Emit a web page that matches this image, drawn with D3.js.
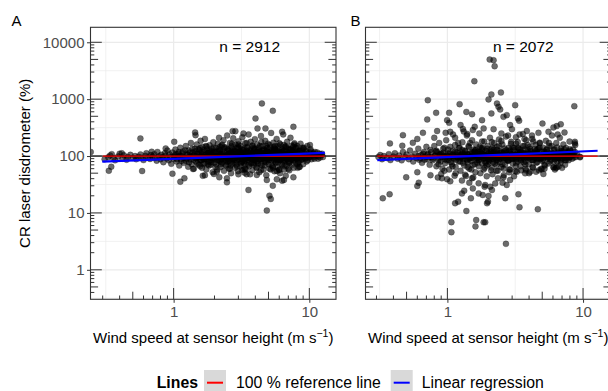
<!DOCTYPE html>
<html><head><meta charset="utf-8">
<script src="https://cdn.jsdelivr.net/npm/d3@7"></script>
<style>html,body{margin:0;padding:0;background:#fff;overflow:hidden}</style>
</head><body>
<svg id="c" width="608" height="391"></svg>
<script>
// ---------------- DATA ----------------
const panelLabels = ["A", "B"];
const nLabels = ["n = 2912", "n = 2072"];
const yTickValues = [1, 10, 100, 1000, 10000];
const xTickValues = [1, 10];
const xTitle = "Wind speed at sensor height (m s";
const yTitle = "CR laser disdrometer (%)";
const legendTitle = "Lines";
const legendItems = ["100 % reference line", "Linear regression"];

// Panel A: wind speed (m/s), ratio (%)
const coreA = [
[0.31,88],[0.33,95],[0.34,102],[0.36,92],[0.37,84],[0.39,98],[0.40,110],[0.42,90],[0.43,103],[0.45,86],[0.46,96],[0.48,105],[0.50,92],[0.52,100],[0.53,88],[0.55,97],[0.57,107],[0.58,93],[0.60,85],[0.62,101],[0.63,112],[0.65,95],[0.67,89],[0.68,104],[0.70,98],
[0.72,108],[0.73,92],[0.75,83],[0.76,118],[0.78,99],[0.80,88],[0.81,105],[0.83,95],[0.84,78],[0.86,112],[0.87,101],[0.89,91],[0.90,125],[0.92,84],[0.93,108],[0.95,97],[0.96,73],[0.98,115],[1.00,90],[1.02,103],[1.03,130],[1.05,80],[1.07,96],[1.08,110],[1.10,68],[1.12,140],[1.13,88],[1.15,100],[1.17,120],[1.19,76],
[1.21,94],[1.23,150],[1.24,82],[1.26,108],[1.28,65],[1.29,125],[1.31,98],[1.33,88],[1.34,170],[1.36,72],[1.38,115],[1.39,102],[1.41,60],[1.43,135],[1.44,92],[1.46,80],[1.48,160],[1.49,110],[1.51,95],[1.53,70],[1.55,128],[1.56,85],[1.58,185],[1.60,102],[1.62,62],[1.63,145],[1.65,90],[1.67,118],[1.69,75],[1.70,200],[1.72,98],[1.74,58],[1.76,132],[1.78,86],[1.80,112],[1.82,68],[1.84,155],[1.86,94],[1.88,78],[1.90,122],[1.92,105],[1.94,52],[1.96,175],[1.98,88],
[2.02,100],[2.04,140],[2.06,72],[2.08,118],[2.10,58],[2.12,165],[2.14,90],[2.16,210],[2.18,82],[2.20,128],[2.22,64],[2.24,108],[2.26,150],[2.28,76],[2.30,96],[2.33,190],[2.35,55],[2.37,120],[2.39,86],[2.42,142],[2.44,68],[2.46,104],[2.48,230],[2.51,80],[2.53,130],[2.55,60],[2.58,112],[2.60,170],[2.62,92],[2.65,50],[2.67,148],[2.70,74],[2.72,102],[2.75,205],[2.77,84],[2.80,124],[2.83,62],[2.85,160],[2.88,96],[2.90,70],[2.93,138],[2.96,110],[2.98,54],[3.01,182],[3.04,88],[3.07,120],[3.10,66],[3.12,150],[3.15,98],[3.18,78],[3.21,215],[3.24,106],[3.27,58],[3.30,135],[3.33,90],[3.36,168],[3.39,72],[3.42,115],[3.45,48],[3.48,145],[3.51,84],[3.54,100],[3.57,240],[3.60,66],[3.63,126],[3.66,92],[3.70,178],[3.73,76],[3.76,108],[3.80,56],[3.83,155],[3.86,95],[3.90,70],[3.93,130],[3.97,198],
[4.01,86],[4.05,112],[4.08,62],[4.12,160],[4.16,98],[4.20,74],[4.24,140],[4.28,52],[4.32,120],[4.36,88],[4.40,225],[4.44,104],[4.48,68],[4.52,150],[4.56,94],[4.60,58],[4.65,132],[4.69,80],[4.73,185],[4.78,108],[4.82,46],[4.86,125],[4.91,90],[4.95,165],[5.00,72],[5.04,116],[5.09,60],[5.14,142],[5.19,98],[5.23,255],[5.28,84],[5.33,128],[5.38,66],[5.43,172],[5.48,102],[5.53,54],[5.58,136],[5.63,78],[5.68,110],[5.74,200],[5.79,92],[5.84,62],[5.90,148],[5.95,86],[6.01,118],[6.07,50],[6.12,160],[6.18,96],[6.24,72],[6.30,130],[6.36,104],[6.42,240],[6.48,82],[6.54,58],[6.60,144],[6.66,92],[6.73,120],[6.79,68],[6.86,178],[6.92,100],[6.99,80],[7.05,135],[7.12,56],[7.19,112],[7.26,210],[7.32,88],[7.40,152],[7.47,70],[7.54,106],[7.61,125],[7.69,62],[7.76,168],[7.84,94],[7.91,78],[7.99,138],
[2.1,95],[2.3,110],[2.5,88],[2.7,118],[2.9,84],[3.1,104],[3.3,76],[3.5,122],[3.7,96],[3.9,112],[4.1,80],[4.3,100],[4.5,124],[4.7,86],[4.9,106],[5.1,92],[5.3,114],[5.5,84],[5.7,126],[5.9,100],[6.1,88],[6.3,112],[6.5,96],[6.7,84],[6.9,110],[7.1,98],[7.3,122],[7.5,90],[7.8,104],[8.1,116],[2.2,105],[2.6,92],[3.0,98],[3.4,108],[3.8,86],[4.2,118],[4.6,102],[5.0,96],[5.4,104],[5.8,90],[6.2,100],[6.6,108],[7.0,92],[7.4,114],[7.9,100],
[8.06,92],[8.15,150],[8.24,76],[8.33,118],[8.42,64],[8.52,104],[8.61,165],[8.71,86],[8.81,128],[8.91,98],[9.01,72],[9.12,140],[9.22,110],[9.33,90],[9.44,122],[9.55,80],[9.66,150],[9.77,102],[9.89,94],[10.0,115],[10.1,156],[10.2,132],[10.4,88],[10.6,108],[10.8,96],[11.0,118],[11.3,100],[11.6,90],[11.9,110],[12.3,104],[12.6,96]
];
const centerA = [
[1.01,96],[1.04,108],[1.06,88],[1.09,118],[1.11,100],[1.14,82],[1.16,112],[1.18,94],[1.22,126],[1.25,90],[1.27,104],[1.30,78],[1.32,116],[1.35,98],[1.37,134],[1.40,86],[1.42,106],[1.45,122],[1.47,92],[1.50,74],[1.52,110],[1.54,100],[1.57,138],[1.59,84],[1.61,118],[1.64,96],[1.66,72],[1.68,128],[1.71,104],[1.73,88],[1.75,146],[1.77,94],[1.79,114],[1.81,80],[1.83,102],[1.85,124],[1.87,70],[1.89,98],[1.91,136],[1.93,86],[1.95,112],[1.97,94],[1.99,76],
[2.03,120],[2.07,96],[2.11,84],[2.15,132],[2.19,104],[2.23,72],[2.27,116],[2.31,90],[2.36,142],[2.40,100],[2.45,80],[2.49,124],[2.54,94],[2.59,110],[2.63,68],[2.68,136],[2.73,88],[2.78,106],[2.82,120],[2.87,78],[2.92,98],[2.97,146],[3.02,86],[3.08,112],[3.13,74],[3.19,130],[3.25,96],[3.31,118],[3.37,82],[3.43,104],[3.49,140],[3.55,70],[3.62,100],[3.68,122],[3.75,88],[3.82,110],[3.88,76],[3.95,134],[4.02,96],[4.09,116],[4.17,82],[4.24,104],[4.32,150],[4.40,72],[4.48,112],[4.56,90],[4.65,128],[4.73,98],[4.82,78],[4.91,138],[5.00,104],[5.09,86],[5.19,120],[5.28,68],[5.38,108],[5.48,144],[5.58,92],[5.68,76],[5.79,116],[5.90,100],[6.01,132],[6.12,84],[6.23,106],[6.35,70],[6.47,124],[6.59,96],[6.71,148],[6.84,88],[6.96,112],[7.09,76],[7.23,130],[7.36,98],[7.50,120],[7.64,84],[7.78,106],[7.93,140],[8.08,90],[8.23,112],[8.38,80],[8.54,124],[8.70,100],[8.86,88],[9.03,134],[9.20,106],[9.37,92],[9.55,118],[9.73,84],[9.91,104],[10.1,96],[10.3,122],[10.5,100],[10.7,112],[10.9,90],[11.1,106],[11.4,116],[11.7,98],[12.0,94],[12.4,110],
[2.52,102],[2.66,114],[2.81,92],[2.95,108],[3.10,96],[3.28,104],[3.46,90],[3.65,114],[3.85,100],[4.05,92],[4.28,108],[4.52,98],[4.77,116],[5.04,94],[5.33,100],[5.63,110],[5.95,92],[6.29,104],[6.65,98],[7.03,112],[7.43,94],[7.86,102],[2.58,84],[2.74,128],[3.04,120],[3.22,86],[3.58,92],[3.92,120],[4.14,102],[4.44,88],[4.70,106],[4.96,114],[5.22,96],[5.52,126],[5.84,86],[6.16,118],[6.53,88],[6.90,104],[7.28,92],[7.70,116],[8.15,98]
];
const fillA = [
[1.52,132],[1.57,66],[1.62,108],[1.68,88],[1.73,150],[1.79,72],[1.85,116],[1.91,92],[1.97,140],[2.03,64],[2.09,100],[2.15,122],[2.21,80],[2.28,158],[2.34,96],[2.41,70],[2.48,134],[2.55,108],[2.62,76],[2.69,164],[2.77,90],[2.85,118],[2.93,66],[3.01,142],[3.09,104],[3.18,82],[3.27,126],[3.36,60],[3.45,170],[3.55,94],[3.65,112],[3.75,74],[3.86,138],[3.97,100],[4.08,64],[4.19,128],[4.31,90],[4.43,176],[4.56,106],[4.69,68],[4.82,118],[4.96,84],[5.10,156],[5.24,96],[5.39,62],[5.54,134],[5.70,104],[5.86,78],[6.02,168],[6.19,92],[6.37,120],[6.55,66],[6.73,140],[6.92,100],[7.12,76],[7.32,130],[7.53,88],[7.74,160],[7.96,104],[8.18,72],[8.42,124],[8.65,92],[8.90,140],
[1.6,84],[1.8,100],[2.0,112],[2.25,88],[2.45,96],[2.65,104],[2.9,100],[3.15,114],[3.4,94],[3.7,104],[3.95,88],[4.25,112],[4.55,96],[4.85,100],[5.15,110],[5.45,90],[5.75,100],[6.05,110],[6.4,94],[6.8,100],[7.2,106],[7.6,98],[8.0,108],[8.5,100],[9.0,96],
[2.2,145],[2.6,60],[3.0,160],[3.4,58],[3.8,150],[4.4,56],[4.8,150],[5.2,58],[5.6,150],[6.0,58],[6.5,156],[7.0,60],[7.6,146],[8.2,62]
];
const scatterA = [
[4.47,841],[5.38,624],[2.14,477],[4.01,458],[7.63,327],[0.569,204],[4.15,306],[4.75,306],[1.44,260],[1.45,233],[2.72,274],[2.85,274],[3.56,25.3],[5.08,20.1],[5.2,17.6],[4.86,11],[1.12,35.4],[1.2,40.6],[2.17,42.3],[0.333,55.2],[0.347,64.9],[0.245,118],[0.586,54.5],[7.63,42.3],[6.3,36.9],[5.76,39],[4.86,37.9],[3.33,50.9],[3.18,56.8],[1.01,178],[1.64,45],[1.7,46],[1.98,48.4],[1.39,59],[0.98,49],[0.415,112],[0.35,108],[0.689,119],[0.874,136],[2.47,34.5],[2.47,40.6],[2.08,53],[6.5,38],[6.7,45],[5.38,30.1],[5.76,54.6],[6.0,56.8],[8.5,64.9],[4.1,46.5],[3.66,47.7],[3.0,47.7],[6.3,267],[3.27,250]
];

// Panel B
const coreB = [
[0.31,96],[0.32,104],[0.33,88],[0.34,100],[0.36,92],[0.37,108],[0.38,85],[0.40,98],[0.41,112],[0.43,90],[0.44,102],[0.46,84],[0.47,118],[0.49,95],[0.50,106],[0.52,88],[0.53,125],[0.55,98],[0.56,80],[0.58,110],[0.59,92],[0.61,135],[0.62,86],[0.64,104],[0.65,76],[0.67,118],[0.68,95],[0.70,145],
[0.71,88],[0.72,110],[0.74,70],[0.75,128],[0.77,96],[0.78,84],[0.80,150],[0.81,102],[0.83,66],[0.84,118],[0.86,92],[0.87,170],[0.89,80],[0.90,108],[0.92,60],[0.93,135],[0.95,98],[0.96,75],[0.98,190],[1.00,112],[1.02,86],[1.03,58],[1.05,145],[1.07,100],[1.08,72],[1.10,125],[1.12,90],[1.14,210],[1.15,64],[1.17,115],[1.19,95],
[1.21,80],[1.23,140],[1.25,55],[1.27,105],[1.29,175],[1.31,88],[1.33,68],[1.35,122],[1.37,98],[1.39,230],[1.41,76],[1.43,150],[1.45,60],[1.47,110],[1.50,92],[1.52,190],[1.54,70],[1.56,130],[1.58,100],[1.61,52],[1.63,160],[1.65,84],[1.68,118],[1.70,66],[1.72,250],[1.75,96],[1.77,138],[1.80,74],[1.82,108],[1.85,58],[1.87,180],[1.90,90],[1.92,124],[1.95,68],[1.98,150],[2.00,100],[2.03,80],[2.06,210],[2.09,112],[2.12,62],[2.15,140],[2.18,88],[2.21,170],[2.24,74],[2.27,104],[2.30,55],[2.33,128],[2.36,94],[2.40,196],[2.43,78],[2.46,115],
[1.25,95],[1.35,100],[1.45,90],[1.55,104],[1.65,96],[1.75,110],[1.85,92],[1.95,102],[2.05,94],[2.15,108],[2.25,96],[2.35,104],[2.45,90],[1.3,112],[1.5,118],[1.7,86],[1.9,80],[2.1,120],[2.3,84],[1.4,84],[1.6,126],[1.8,132],[2.0,72],[2.2,130],[2.4,102],
[2.50,64],[2.54,160],[2.58,92],[2.62,120],[2.66,70],[2.70,220],[2.74,100],[2.78,84],[2.82,140],[2.86,58],[2.90,112],[2.95,178],[2.99,90],[3.03,74],[3.08,128],[3.12,104],[3.17,54],[3.21,165],[3.26,95],[3.30,80],[3.35,136],[3.40,240],[3.45,66],[3.50,118],[3.55,98],[3.60,150],[3.65,78],[3.70,108],[3.76,60],[3.81,190],[3.87,92],[3.92,125],[3.98,72],[4.04,145],[4.10,102],[4.16,86],[4.22,200],[4.28,62],[4.34,116],[4.40,94],[4.47,158],[4.53,76],[4.60,130],[4.66,100],[4.73,56],[4.80,172],[4.87,88],[4.94,120],
[2.6,104],[2.8,96],[3.0,108],[3.2,88],[3.4,100],[3.6,112],[3.8,94],[4.0,106],[4.2,98],[4.4,110],[4.6,92],[4.8,104],[2.7,88],[2.9,126],[3.1,140],[3.3,110],[3.5,84],[3.7,130],[3.9,104],[4.1,122],[4.3,84],[4.5,112],[4.7,136],[4.9,96],
[5.01,82],[5.09,140],[5.16,104],[5.24,68],[5.32,185],[5.40,96],[5.48,118],[5.56,74],[5.64,150],[5.73,100],[5.81,86],[5.90,230],[5.98,110],[6.07,64],[6.16,132],[6.26,92],[6.35,170],[6.45,80],[6.54,115],[6.64,98],[6.74,210],[6.84,76],[6.95,124],[7.05,90],[7.16,160],[7.26,104],[7.37,70],[7.48,138],[7.60,96],[7.71,120],[7.83,84],[7.95,180],[8.07,100],[8.19,112],[8.31,90],[8.44,130],[8.57,104],[8.70,118],[8.83,96],[9.0,108],
[5.2,100],[5.5,94],[5.8,108],[6.1,98],[6.4,104],[6.7,92],[7.0,110],[7.3,96],[7.6,104],[7.9,94]
];
const centerB = [
[0.61,100],[0.63,92],[0.66,110],[0.68,86],[0.71,104],[0.73,96],[0.76,118],[0.78,90],[0.81,100],[0.83,124],[0.86,84],[0.88,106],[0.91,96],[0.93,114],[0.96,88],[0.99,102],[1.01,130],[1.04,94],[1.06,78],[1.09,108],[1.11,98],[1.14,120],[1.16,86],[1.19,104],[1.22,138],[1.25,92],[1.27,110],[1.30,76],[1.32,100],[1.35,124],[1.38,88],[1.41,106],[1.44,144],[1.47,96],[1.50,82],[1.53,114],[1.56,100],[1.59,72],[1.62,128],[1.65,92],[1.68,108],[1.71,84],[1.74,118],[1.78,98],[1.81,140],[1.84,90],[1.88,104],[1.91,76],[1.95,120],[1.98,96],[2.02,112],[2.06,86],[2.10,132],[2.14,100],[2.18,78],[2.22,116],[2.26,94],[2.31,146],[2.35,106],[2.40,88],[2.44,122],[2.49,98],[2.54,72],[2.59,112],[2.64,136],[2.69,92],[2.74,104],[2.80,82],[2.85,120],[2.91,100],[2.97,88],[3.03,142],[3.09,108],[3.15,94],[3.21,76],[3.28,118],[3.34,100],[3.41,130],[3.48,86],[3.55,110],[3.62,96],[3.69,150],[3.77,80],[3.84,106],[3.92,116],[4.00,92],[4.08,134],[4.16,100],[4.24,84],[4.33,112],[4.41,96],[4.50,124],[4.59,78],[4.69,104],[4.78,140],[4.88,92],[4.98,110],[5.08,86],[5.18,120],[5.28,100],[5.39,132],[5.50,90],[5.61,108],[5.72,80],[5.84,116],[5.96,98],[6.08,128],[6.20,88],[6.33,106],[6.45,142],[6.58,94],[6.72,112],[6.85,84],[6.99,120],[7.13,100],[7.28,130],[7.42,92],[7.57,108],[7.73,116],[7.88,96],[8.04,124],[8.21,102],[8.37,110],[8.54,94],
[0.9,110],[1.0,100],[1.1,92],[1.2,112],[1.3,98],[1.4,108],[1.5,96],[1.6,104],[1.7,94],[1.8,110],[1.9,100],[2.0,90],[2.1,106],[2.2,98],[2.3,114],[2.4,94],[2.5,104],[2.6,90],[2.7,112],[2.8,100],[2.9,108],[3.0,94],[3.2,104],[3.4,112],[3.6,94],[3.8,100],[4.0,110],[4.2,96],[4.4,104],[4.6,112],[4.8,94],[5.0,102],[5.3,110],[5.6,98],[5.9,106],[6.2,96],[6.6,110],[7.0,98],[7.5,104],[8.0,96]
];
const fillB = [
[0.82,120],[0.86,72],[0.90,100],[0.95,140],[0.99,84],[1.04,112],[1.09,66],[1.14,156],[1.19,96],[1.24,80],[1.29,128],[1.35,104],[1.41,64],[1.47,170],[1.53,92],[1.60,118],[1.66,76],[1.73,146],[1.80,100],[1.88,62],[1.96,134],[2.04,88],[2.12,176],[2.21,108],[2.30,70],[2.40,150],[2.50,96],[2.60,60],[2.71,126],[2.82,84],[2.94,164],[3.06,102],[3.19,66],[3.32,140],[3.46,92],[3.60,116],[3.75,72],[3.91,156],[4.07,98],[4.24,64],[4.41,132],[4.60,90],[4.79,168],[4.98,104],[5.19,70],[5.40,128],[5.63,96],[5.86,150],[6.10,80],[6.36,112],[6.62,66],[6.89,136],[7.18,100],[7.48,84],
[0.95,96],[1.1,104],[1.25,100],[1.45,96],[1.65,112],[1.85,104],[2.05,96],[2.25,92],[2.5,114],[2.75,98],[3.05,92],[3.3,104],[3.6,100],[3.95,96],[4.3,104],[4.7,100],[5.1,94],[5.5,104],[6.0,100],[6.5,96],[7.1,106],
[1.2,170],[1.5,58],[1.8,180],[2.1,56],[2.5,184],[2.9,58],[3.3,176],[3.8,56],[4.3,180],[4.9,60],[5.6,170],[6.3,62]
];
const scatterB = [
[2.05,4970],[2.19,4830],[2.23,3790],[1.58,2070],[2.48,1310],[2.11,1210],[2.01,990],[2.32,840],[2.38,733],[2.45,659],[2.11,561],[2.59,489],[2.74,524],[3.16,785],[0.717,960],[1.23,817],[0.826,575],[1.03,575],[0.995,428],[1.03,384],[0.71,440],[1.38,597],[1.52,545],[1.8,428],[1.59,327],[1.54,286],[3.31,458],[3.38,417],[8.62,753],[5.02,372],[6.85,362],[6.4,336],[6.05,319],[1.25,350],
[0.47,233],[0.556,171],[0.465,152],[0.377,167],[0.66,256],[0.84,275],[0.97,256],[1.05,267],[1.85,306],[2.19,297],[2.99,297],[2.5,250],[3.85,275],[4.69,256],[5.56,267],[1.3,300],[1.32,270],[1.4,245],[2.8,230],[3.2,215],[3.6,245],[4.2,230],[6.5,240],[7.3,260],[8.0,132],[8.7,178],[8.76,156],[9.5,95],[0.8,210],[1.1,240],[0.6,200],[2.9,350],[3.7,200],
[0.334,18.1],[0.375,21.3],[0.497,42.3],[0.6,29.8],[0.615,34.0],[1.07,6.87],[1.07,4.58],[1.14,14.8],[1.2,15.8],[1.28,22],[1.33,24.6],[1.38,10.8],[1.49,18.1],[1.54,27],[1.63,7.5],[1.85,6.87],[1.61,5.8],[1.9,6.87],[1.7,22],[1.82,20.7],[1.88,28.9],[0.91,40.6],[0.995,39.1],[0.90,48.4],[1.13,45],[1.28,37],[1.37,44.6],[1.52,40.6],[1.7,33.1],[1.9,31],
[2.7,2.86],[3.34,21.3],[3.4,12.6],[4.64,11.6],[2.67,18.1],[2.07,28.9],[2.13,25.3],[2.01,19.9],[1.99,15.8],[1.96,14.8],[2.36,40.6],[2.59,42.3],[2.55,34],[2.74,31],[3.25,53],[3.74,49.6],[4.07,53],[4.96,58.4],[5.1,48.4],[6.05,63],[6.4,63],[7.36,85],[9.5,97],[8.7,167],
[0.6,52],[0.75,46],[0.95,55],[1.15,50],[1.35,47],[1.55,42],[1.75,50],[1.95,44],[2.15,48],[2.35,55],[2.6,46],[2.85,52],[3.1,44],[3.5,56],[4.0,50],[4.5,53],[5.2,60],[6.2,58],[7.0,62],[1.05,36],[1.45,34],[2.25,33],[2.9,38],[0.85,42]
];

// Fitted lines (endpoints)
const regA = [[0.298, 79.5], [13.0, 114]];
const regB = [[0.304, 85], [12.8, 124]];
const refA = [[0.300, 100], [13.0, 100]];
const refB = [[0.304, 100], [12.8, 100]];

// ---------------- DRAW ----------------
const FONT = "'Liberation Sans', Arial, Helvetica, sans-serif";
const svg = d3.select("#c");
svg.append("rect").attr("width", 608).attr("height", 391).attr("fill", "#fff");
const yDomain = [0.303, 18350];

function drawPanel(o) {
  const x = d3.scaleLog().domain(o.xDomain).range([o.left, o.right]);
  const y = d3.scaleLog().domain(yDomain).range([o.bottom, o.top]);
  const g = svg.append("g");
  const clipId = "clip" + o.label;
  svg.append("clipPath").attr("id", clipId).append("rect")
    .attr("x", o.left).attr("y", o.top).attr("width", o.right - o.left).attr("height", o.bottom - o.top);

  const grid = g.append("g").attr("clip-path", `url(#${clipId})`);
  const xMinor = [-2, -1, 0, 1].map(k => Math.pow(10, k + 0.5)).filter(v => v > o.xDomain[0] && v < o.xDomain[1]);
  const yMinor = [-1, 0, 1, 2, 3, 4].map(k => Math.pow(10, k + 0.5)).filter(v => v > yDomain[0] && v < yDomain[1]);
  const xMajor = [0.1, 1, 10, 100].filter(v => v > o.xDomain[0] && v < o.xDomain[1]);
  grid.selectAll(".xm").data(xMinor).enter().append("line")
    .attr("x1", d => x(d)).attr("x2", d => x(d)).attr("y1", o.top).attr("y2", o.bottom)
    .attr("stroke", "#EBEBEB").attr("stroke-width", 0.7);
  grid.selectAll(".ym").data(yMinor).enter().append("line")
    .attr("y1", d => y(d)).attr("y2", d => y(d)).attr("x1", o.left).attr("x2", o.right)
    .attr("stroke", "#EBEBEB").attr("stroke-width", 0.7);
  grid.selectAll(".xM").data(xMajor).enter().append("line")
    .attr("x1", d => x(d)).attr("x2", d => x(d)).attr("y1", o.top).attr("y2", o.bottom)
    .attr("stroke", "#EBEBEB").attr("stroke-width", 1.2);
  grid.selectAll(".yM").data(yTickValues).enter().append("line")
    .attr("y1", d => y(d)).attr("y2", d => y(d)).attr("x1", o.left).attr("x2", o.right)
    .attr("stroke", "#EBEBEB").attr("stroke-width", 1.2);

  const plot = g.append("g").attr("clip-path", `url(#${clipId})`);
  plot.append("line").attr("x1", o.left).attr("x2", o.right).attr("y1", y(100)).attr("y2", y(100))
    .attr("stroke", "#000").attr("stroke-width", 1);
  plot.selectAll("circle").data(o.points).enter().append("circle")
    .attr("cx", d => x(d[0])).attr("cy", d => y(d[1])).attr("r", 3)
    .attr("fill", "#000").attr("fill-opacity", 0.58)
    .attr("stroke", "#000").attr("stroke-opacity", 0.4).attr("stroke-width", 0.6);
  const line = d3.line().x(d => x(d[0])).y(d => y(d[1]));
  plot.append("path").attr("d", line(o.ref)).attr("stroke", "#FF0000").attr("stroke-width", 1.2).attr("fill", "none");
  plot.append("path").attr("d", line(o.reg)).attr("stroke", "#0000FF").attr("stroke-width", 2.2).attr("fill", "none");

  const ticks = [];
  for (let d = -2; d <= 5; d++) for (let k = 1; k <= 9; k++) ticks.push({ v: k * Math.pow(10, d), k });
  const len = t => t.k === 1 ? 11.3 : (t.k === 5 ? 7.6 : 3.8);
  const yT = ticks.filter(t => t.v >= yDomain[0] && t.v <= yDomain[1]);
  const xT = ticks.filter(t => t.v >= o.xDomain[0] && t.v <= o.xDomain[1]);
  const lt = g.append("g").attr("stroke", "#333").attr("stroke-width", 1);
  yT.forEach(t => {
    lt.append("line").attr("x1", o.left).attr("x2", o.left + len(t)).attr("y1", y(t.v)).attr("y2", y(t.v));
    lt.append("line").attr("x1", o.right).attr("x2", o.right - len(t)).attr("y1", y(t.v)).attr("y2", y(t.v));
  });
  xT.forEach(t => {
    lt.append("line").attr("y1", o.bottom).attr("y2", o.bottom - len(t)).attr("x1", x(t.v)).attr("x2", x(t.v));
  });

  g.append("rect").attr("x", o.left).attr("y", o.top).attr("width", o.right - o.left).attr("height", o.bottom - o.top)
    .attr("fill", "none").attr("stroke", "#333").attr("stroke-width", 1.1);

  const xa = g.append("g").attr("transform", `translate(0,${o.bottom})`)
    .call(d3.axisBottom(x).tickValues(xTickValues).tickFormat(d3.format("d")).tickSize(3.5).tickPadding(4));
  xa.select(".domain").remove();
  xa.selectAll("line").attr("stroke", "#333");
  xa.selectAll("text").attr("font-family", FONT).attr("font-size", 15).attr("fill", "#4D4D4D");
  if (o.yAxis) {
    const ya = g.append("g").attr("transform", `translate(${o.left},0)`)
      .call(d3.axisLeft(y).tickValues(yTickValues).tickFormat(d3.format("d")).tickSize(3.5).tickPadding(2.5));
    ya.select(".domain").remove();
    ya.selectAll("line").attr("stroke", "#333");
    ya.selectAll("text").attr("font-family", FONT).attr("font-size", 15).attr("fill", "#4D4D4D");
    svg.append("text").attr("transform", `translate(30,${(o.top + o.bottom) / 2}) rotate(-90)`)
      .attr("text-anchor", "middle").attr("font-family", FONT).attr("font-size", 15).attr("fill", "#000")
      .text(yTitle);
  }
  const xt = svg.append("text").attr("x", (o.left + o.right) / 2).attr("y", 343)
    .attr("text-anchor", "middle").attr("font-family", FONT).attr("font-size", 15).attr("fill", "#000");
  xt.append("tspan").text(xTitle);
  xt.append("tspan").attr("dy", -6).attr("font-size", 10.5).text("\u22121");
  xt.append("tspan").attr("dy", 6).text(")");

  svg.append("text").attr("x", o.tagX).attr("y", 26).attr("font-family", FONT).attr("font-size", 15).attr("fill", "#000").text(o.label);
  svg.append("text").attr("x", o.nX).attr("y", 52.3).attr("text-anchor", "middle")
    .attr("font-family", FONT).attr("font-size", 15.5).attr("fill", "#000").text(o.n);
}

drawPanel({ label: panelLabels[0], n: nLabels[0], left: 90.5, right: 336, top: 27.3, bottom: 299.3,
  xDomain: [0.244, 15.72], points: coreA.concat(centerA, fillA, scatterA), reg: regA, ref: refA, yAxis: true, tagX: 11.5, nX: 249.7 });
drawPanel({ label: panelLabels[1], n: nLabels[1], left: 365.5, right: 611, top: 27.3, bottom: 299.3,
  xDomain: [0.249, 16.07], points: coreB.concat(centerB, fillB, scatterB), reg: regB, ref: refB, yAxis: false, tagX: 350.5, nX: 523.3 });

const lg = svg.append("g").attr("font-family", FONT).attr("font-size", 15.8);
lg.append("text").attr("x", 156.7).attr("y", 387.5).attr("font-weight", "bold").text(legendTitle);
const keyX = [204, 390.7];
const textX = [236, 421.7];
const keyColors = ["#FF0000", "#0000FF"];
legendItems.forEach((t, i) => {
  lg.append("rect").attr("x", keyX[i]).attr("y", 370).attr("width", 22).attr("height", 22).attr("fill", "#D9D9D9");
  lg.append("line").attr("x1", keyX[i] + 3).attr("x2", keyX[i] + 19).attr("y1", 382.7).attr("y2", 382.7)
    .attr("stroke", keyColors[i]).attr("stroke-width", 2);
  lg.append("text").attr("x", textX[i]).attr("y", 387.5).text(t);
});
</script>
</body></html>
